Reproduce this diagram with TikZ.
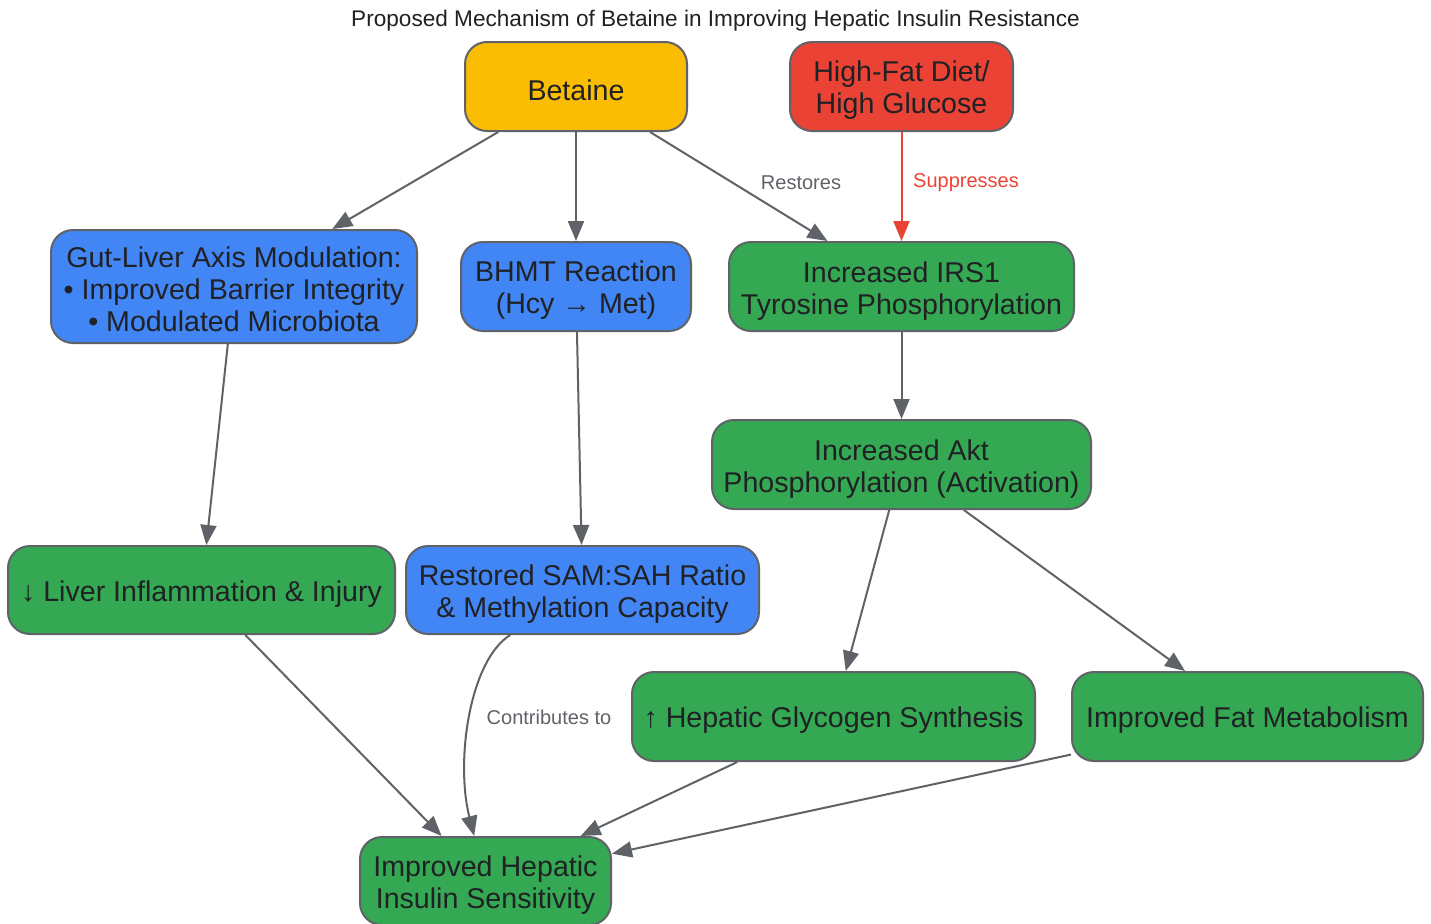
\documentclass[tikz,border=0pt]{standalone}
\usepackage{fontspec}
\setmainfont{Liberation Sans}
\usetikzlibrary{arrows.meta}
\definecolor{cyel}{HTML}{FBBC04}
\definecolor{cred}{HTML}{EA4335}
\definecolor{cblue}{HTML}{4285F4}
\definecolor{cgreen}{HTML}{34A853}
\definecolor{cedge}{HTML}{5F6368}
\definecolor{ctext}{HTML}{202124}
\tikzset{
  box/.style={draw=cedge, line width=1pt, rounded corners=11pt, inner sep=0pt},
  boxtext/.style={inner sep=0pt, align=center, text=ctext, font=\fontsize{14.3pt}{16pt}\selectfont},
  conn/.style={draw=cedge, line width=1pt, -{Triangle[length=10pt,width=8pt]}},
  redconn/.style={draw=cred, line width=1pt, -{Triangle[length=10pt,width=8pt]}},
  elabel/.style={font=\fontsize{10pt}{12pt}\selectfont, text=cedge},
}
\begin{document}
\begin{tikzpicture}[x=0.5pt,y=-0.5pt]
\clip (0,0) rectangle (1431,923);
\fill[white] (0,0) rectangle (1431,923);
\node[font=\fontsize{11.3pt}{13pt}\selectfont, text=ctext] (title) at (715.5,21) {Proposed Mechanism of Betaine in Improving Hepatic Insulin Resistance};
\node[box, fill=cyel, minimum width=111pt, minimum height=44.5pt] (betaine) at (576,86.5) {};
\node[box, fill=cred, minimum width=111.5pt, minimum height=44.5pt] (hfd) at (901.5,86.5) {};
\node[box, fill=cblue, minimum width=183pt, minimum height=56.5pt] (gut) at (234,286.5) {};
\node[box, fill=cblue, minimum width=115pt, minimum height=44.5pt] (bhmt) at (576,286.5) {};
\node[box, fill=cgreen, minimum width=172.5pt, minimum height=44.5pt] (irs) at (901.5,286.5) {};
\node[box, fill=cgreen, minimum width=189.5pt, minimum height=44.5pt] (akt) at (901.5,464.5) {};
\node[box, fill=cgreen, minimum width=193.5pt, minimum height=44pt] (liver) at (201.5,590) {};
\node[box, fill=cblue, minimum width=176.5pt, minimum height=44pt] (sam) at (582.5,590) {};
\node[box, fill=cgreen, minimum width=201.5pt, minimum height=44.5pt] (gly) at (833.5,716.5) {};
\node[box, fill=cgreen, minimum width=175.5pt, minimum height=44.5pt] (fat) at (1247.5,716.5) {};
\node[box, fill=cgreen, minimum width=125.5pt, minimum height=44pt] (ihs) at (485.5,881) {};

\node[boxtext] (betaine-t) at ([yshift=-1.8pt]betaine.center) {Betaine};
\node[boxtext] (hfd-t) at ([yshift=-1.8pt]hfd.center) {High-Fat Diet/\\High Glucose};
\node[boxtext] (gut-t) at ([yshift=-1.3pt]gut.center) {Gut-Liver Axis Modulation:\\• Improved Barrier Integrity\\• Modulated Microbiota};
\node[boxtext] (bhmt-t) at ([yshift=-2pt]bhmt.center) {BHMT Reaction\\(Hcy → Met)};
\node[boxtext] (irs-t) at ([yshift=-2.2pt]irs.center) {Increased IRS1\\Tyrosine Phosphorylation};
\node[boxtext] (akt-t) at ([yshift=-2.2pt]akt.center) {Increased Akt\\Phosphorylation (Activation)};
\node[boxtext] (liver-t) at ([yshift=-2pt]liver.center) {↓ Liver Inflammation \& Injury};
\node[boxtext] (sam-t) at ([yshift=-2.2pt]sam.center) {Restored SAM:SAH Ratio\\\& Methylation Capacity};
\node[boxtext] (gly-t) at ([yshift=-2pt]gly.center) {↑ Hepatic Glycogen Synthesis};
\node[boxtext] (fat-t) at ([yshift=-2pt]fat.center) {Improved Fat Metabolism};
\node[boxtext] (ihs-t) at ([yshift=-2.2pt]ihs.center) {Improved Hepatic\\Insulin Sensitivity};

\draw[conn] (betaine) -- (gut);
\draw[conn] (betaine) -- (bhmt);
\draw[conn] (betaine) -- (irs);
\node[elabel] (lrest) at (801,182.5) {Restores};
\draw[redconn] (hfd) -- (irs);
\node[elabel, text=cred] (lsupp) at (966,182.5) {Suppresses};
\draw[conn] (gut) -- (liver);
\draw[conn] (bhmt) -- (sam);
\draw[conn] (irs) -- (akt);
\draw[conn] (akt) -- (gly);
\draw[conn] (akt) -- (fat);
\draw[conn] (liver) -- (ihs);
\draw[conn] (sam) .. controls (470,660) and (455,760) .. (ihs);
\node[elabel] (lcontr) at (549,717.5) {Contributes to};
\draw[conn] (gly) -- (ihs);
\draw[conn] (fat) -- (ihs);
\end{tikzpicture}
\end{document}
